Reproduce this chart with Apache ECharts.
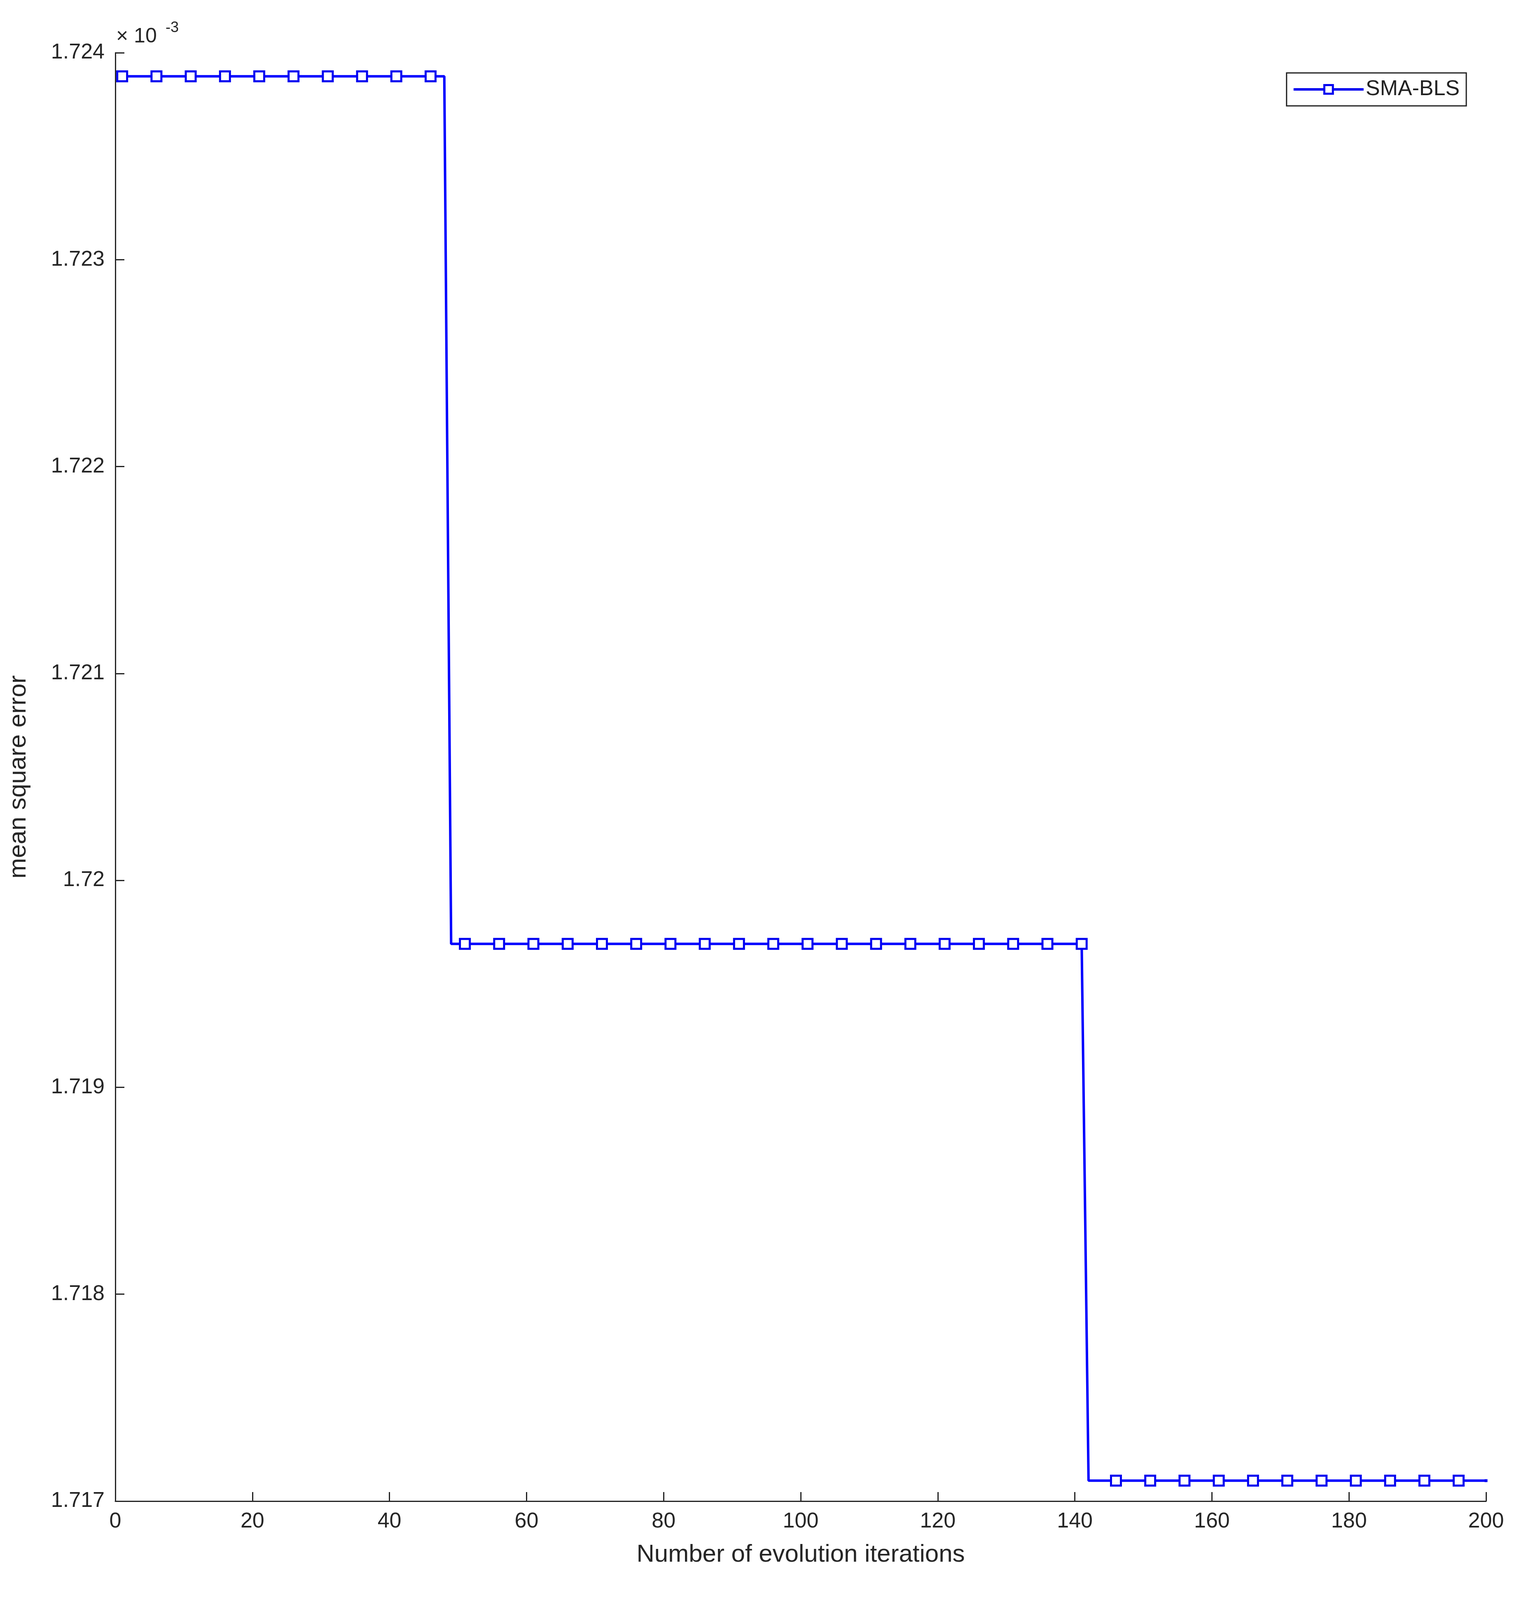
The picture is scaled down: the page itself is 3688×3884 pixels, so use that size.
<!DOCTYPE html>
<html>
<head>
<meta charset="utf-8">
<script src="https://cdn.jsdelivr.net/npm/echarts@6/dist/echarts.min.js"></script>
<style>html,body{margin:0;padding:0;background:#fff}#chart{width:3688px;height:3884px}</style>
</head>
<body>
<div id="chart"></div>
<script>
// MSE levels (x10^-3) and the last iteration each level holds
var stepLevels = [1.723886, 1.719693, 1.717099];
var stepEnds = [48, 141, 200];
var xTicks = [0, 20, 40, 60, 80, 100, 120, 140, 160, 180, 200];
var yTicks = [1.717, 1.718, 1.719, 1.72, 1.721, 1.722, 1.723, 1.724];

var data = [];
var seg = 0;
for (var it = 1; it <= 200; it++) {
    if (it > stepEnds[seg]) seg++;
    data.push([it, stepLevels[seg]]);
}

var chart = echarts.init(document.getElementById('chart'));
chart.setOption({
    animation: false,
    backgroundColor: '#fff',
    grid: {left: 280, right: 105, top: 128, bottom: 267},
    legend: {
        right: 128, top: 177,
        itemWidth: 170, itemHeight: 26,
        padding: [14, 16, 14, 14],
        borderColor: '#222', borderWidth: 3,
        textStyle: {fontFamily: 'Liberation Sans', fontSize: 52, color: '#222'},
        itemStyle: {color: '#fff', borderColor: '#0000f0', borderWidth: 5},
        lineStyle: {width: 6, color: '#0000f0'},
        data: ['SMA-BLS']
    },
    xAxis: {
        type: 'value', min: 0, max: 200, interval: 20,
        name: 'Number of evolution iterations', nameLocation: 'middle', nameGap: 100,
        nameTextStyle: {fontFamily: 'Liberation Sans', fontSize: 60, color: '#262626'},
        axisLine: {onZero: false, lineStyle: {color: '#262626', width: 3}},
        axisTick: {inside: true, length: 22, lineStyle: {width: 3}},
        axisLabel: {fontFamily: 'Liberation Sans', fontSize: 52, color: '#262626', margin: 24},
        splitLine: {show: false}
    },
    yAxis: {
        type: 'value', min: 1.717, max: 1.724, interval: 0.001,
        name: 'mean square error', nameLocation: 'middle', nameGap: 205,
        nameTextStyle: {fontFamily: 'Liberation Sans', fontSize: 60, color: '#262626'},
        axisLine: {show: true, lineStyle: {color: '#262626', width: 3}},
        axisTick: {inside: true, length: 22, lineStyle: {width: 3}},
        axisLabel: {fontFamily: 'Liberation Sans', fontSize: 52, color: '#262626', margin: 26,
            formatter: function (v) { return String(+v.toFixed(3)); }},
        splitLine: {show: false}
    },
    graphic: [{
        type: 'text', left: 282, top: 64,
        style: {text: '\u00d7 10', fontFamily: 'Liberation Sans', fontSize: 50, fill: '#262626'}
    }, {
        type: 'text', left: 402, top: 50,
        style: {text: '-3', fontFamily: 'Liberation Sans', fontSize: 36, fill: '#262626'}
    }],
    series: [{
        name: 'SMA-BLS', type: 'line', data: data,
        color: '#0000f0',
        lineStyle: {width: 6, color: '#0000f0'},
        symbol: 'rect', showAllSymbol: true,
        symbolSize: function (v, p) { return p.dataIndex % 5 === 0 ? 24 : 0; },
        itemStyle: {color: '#fff', borderColor: '#0000f0', borderWidth: 5}
    }]
});
chart.setOption({grid: {left: 280, right: 80, top: 128, bottom: 240}});
</script>
</body>
</html>
